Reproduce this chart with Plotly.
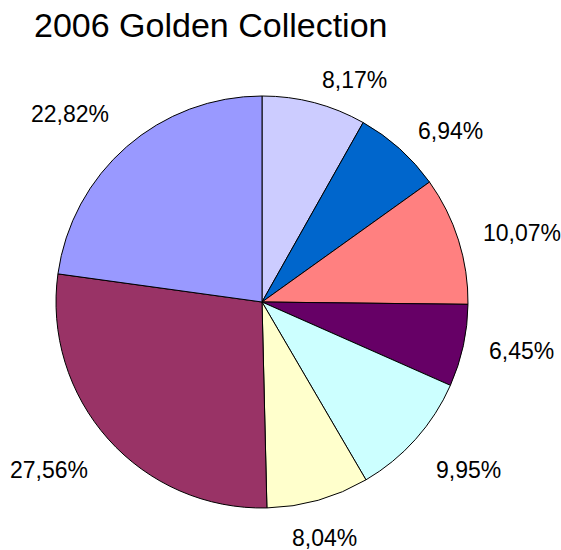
import math
import plotly.graph_objects as go

title_text = "2006 Golden Collection"
shares = [8.17, 6.94, 10.07, 6.45, 9.95, 8.04, 27.56, 22.82]
slice_names = ["A", "B", "C", "D", "E", "F", "G", "H"]
slice_colors = ["#CCCCFF", "#0066CC", "#FF8080", "#660066",
                "#CCFFFF", "#FFFFCC", "#993366", "#9999FF"]

W, H = 561, 550
cx, cy, r = 262, 302, 206          # pie centre and radius in pixels
label_r = r + 24                    # label attachment radius
label_anchor = [("left", "middle"), ("left", "middle"), ("left", "middle"),
                ("left", "middle"), ("left", "top"), ("center", "top"),
                ("right", "top"), ("right", "bottom")]
FONT = "Liberation Sans, Arial, sans-serif"

fig = go.Figure(go.Pie(
    labels=slice_names,
    values=shares,
    sort=False,
    direction="clockwise",
    rotation=0,
    marker=dict(colors=slice_colors, line=dict(color="black", width=1)),
    textinfo="none",
    hoverinfo="label+percent",
    showlegend=False,
    domain=dict(x=[(cx - r) / W, (cx + r) / W],
                y=[(H - cy - r) / H, (H - cy + r) / H]),
))

# percentage labels placed outside, along each slice's mid-angle
total = sum(shares)
cum = 0.0
annotations = []
for v, (xa, ya) in zip(shares, label_anchor):
    mid = (cum + v / 2) / total * 2 * math.pi
    cum += v
    px = cx + label_r * math.sin(mid)
    py = cy - label_r * math.cos(mid)
    annotations.append(dict(
        x=px / W, y=(H - py) / H, xref="paper", yref="paper",
        text=f"{v:.2f}%".replace(".", ","), showarrow=False,
        xanchor=xa, yanchor=ya,
        font=dict(family=FONT, size=23, color="black"),
    ))

fig.update_layout(
    width=W, height=H,
    margin=dict(l=0, r=0, t=0, b=0),
    paper_bgcolor="white",
    separators=",.",
    annotations=annotations,
    title=dict(text=title_text, x=34 / W, xanchor="left", xref="paper",
               y=1 - 25 / H, yref="container", yanchor="middle",
               font=dict(family=FONT, size=34, color="black")),
)

fig.write_html("out.html", config={"displayModeBar": False},
               post_script="document.body.style.margin='0';")
